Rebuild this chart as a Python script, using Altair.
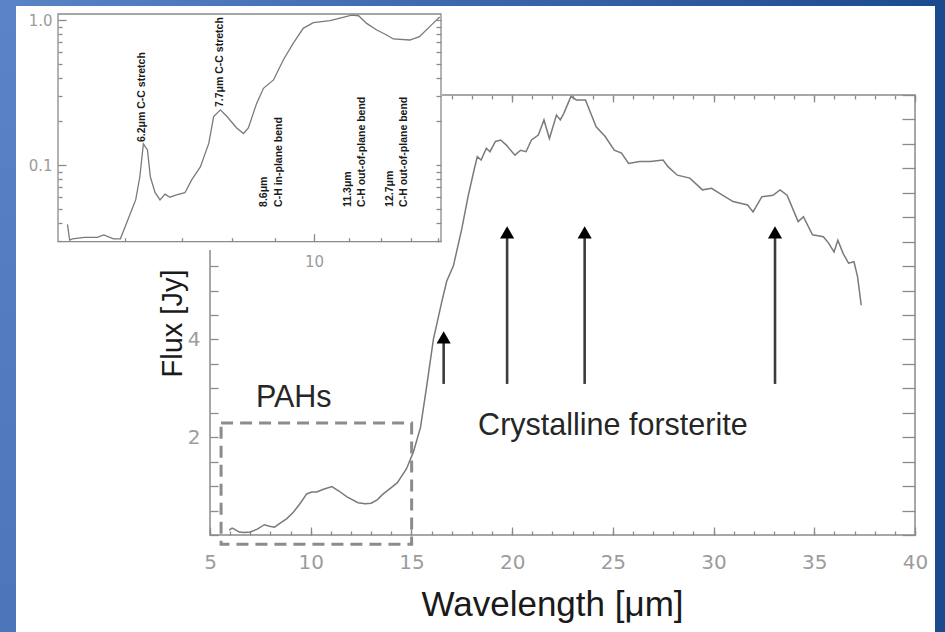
import altair as alt
import pandas as pd

# ---------------------------------------------------------------
# Spectrum of the disk: wavelength (micron) vs flux (Jy)
WAVE = [5.95, 6.10, 6.25, 6.45, 6.70, 7.00, 7.35, 7.70, 7.95, 8.20, 8.50, 8.80,
        9.15, 9.50, 9.80, 10.05, 10.30, 10.60, 11.05, 11.40, 11.80, 12.35, 12.70,
        13.00, 13.30, 13.60, 14.00, 14.30, 14.75, 15.10, 15.45, 15.76, 16.09,
        16.50, 16.75, 17.08, 17.50, 17.80, 18.10, 18.27, 18.46, 18.72, 18.90,
        19.17, 19.43, 19.70, 20.14, 20.42, 20.69, 20.96, 21.30, 21.58, 21.85,
        22.20, 22.39, 22.56, 22.92, 23.19, 23.64, 24.17, 24.62, 25.07, 25.43,
        25.78, 26.33, 26.86, 27.49, 27.75, 28.20, 28.82, 29.45, 29.90, 30.44,
        30.97, 31.69, 31.96, 32.40, 32.95, 33.30, 33.65, 34.20, 34.46, 34.91,
        35.45, 35.71, 35.98, 36.17, 36.43, 36.70, 36.97, 37.15, 37.33]
FLUX = [0.10, 0.14, 0.11, 0.06, 0.05, 0.06, 0.12, 0.21, 0.18, 0.16, 0.25, 0.33,
        0.47, 0.66, 0.84, 0.88, 0.88, 0.93, 0.99, 0.90, 0.78, 0.66, 0.64,
        0.65, 0.72, 0.84, 0.97, 1.07, 1.35, 1.70, 2.20, 3.05, 4.00,
        4.76, 5.19, 5.50, 6.26, 6.90, 7.45, 7.74, 7.67, 7.91, 7.84,
        8.05, 8.08, 7.98, 7.77, 7.87, 7.84, 8.08, 8.18, 8.49, 8.11,
        8.59, 8.49, 8.62, 8.97, 8.90, 8.90, 8.35, 8.15, 7.87, 7.81,
        7.60, 7.64, 7.64, 7.67, 7.53, 7.36, 7.30, 7.06, 7.09, 6.95,
        6.82, 6.75, 6.61, 6.92, 6.95, 7.06, 6.95, 6.41, 6.51, 6.14,
        6.10, 5.97, 5.79, 6.03, 5.76, 5.56, 5.59, 5.28, 4.70]

# Zoom on the PAH region (log-log, normalised flux)
PAH_WAVE = [5.13, 5.16, 5.20, 5.37, 5.56, 5.66, 5.81, 5.92, 6.03, 6.17, 6.24,
            6.30, 6.37, 6.42, 6.50, 6.59, 6.68, 6.77, 6.89, 7.05, 7.18, 7.35,
            7.52, 7.62, 7.76, 7.90, 8.11, 8.26, 8.37, 8.56, 8.72, 8.96, 9.20,
            9.45, 9.71, 9.98, 10.44, 10.73, 11.07, 11.28, 11.53, 11.85, 12.17,
            12.39, 12.96, 13.30, 13.80, 14.05]
PAH_FLUX = [0.039, 0.0304, 0.031, 0.0317, 0.0317, 0.033, 0.031, 0.031, 0.0408,
            0.0575, 0.083, 0.14, 0.127, 0.083, 0.065, 0.0575, 0.063, 0.060,
            0.0623, 0.0644, 0.079, 0.097, 0.141, 0.216, 0.24, 0.216, 0.18,
            0.165, 0.18, 0.266, 0.338, 0.386, 0.53, 0.69, 0.876, 0.958, 0.99,
            1.03, 1.08, 1.07, 0.948, 0.853, 0.788, 0.74, 0.728, 0.767, 0.948,
            1.05]

# PAH band identifications in the zoom
BAND_LABELS = ["6.2\u03bcm C-C stretch", "7.7\u03bcm C-C stretch",
               "8.6\u03bcm\nC-H in-plane bend",
               "11.3\u03bcm\nC-H out-of-plane bend",
               "12.7\u03bcm\nC-H out-of-plane bend"]
BAND_X = [6.28, 7.76, 8.74, 10.95, 12.28]
BAND_Y = [0.144, 0.251, 0.0514, 0.0514, 0.0514]

# Crystalline forsterite features (arrows)
ARROW_X = [16.6, 19.75, 23.6, 33.05]
ARROW_TIP = [4.04, 6.19, 6.19, 6.19]
ARROW_BASE = [3.09, 3.09, 3.09, 3.09]

# Region shown in the zoom
BOX_WAVE = [5.55, 15.01]
BOX_FLUX = [-0.19, 2.29]

# Annotations on the main panel
NOTE_TEXT = ["PAHs", "Crystalline forsterite"]
NOTE_X = [7.28, 18.31]
NOTE_Y = [2.62, 2.05]

# Ticks
X_MAJOR = [5, 10, 15, 20, 25, 30, 35, 40]
X_MINOR = list(range(5, 41))
Y_TICKS = [i * 0.5 for i in range(19)]
Y_LABELED = [2, 4, 6, 8]
PAH_X_MAJOR = [10]
PAH_X_MINOR = [6, 7, 8, 9, 11, 12, 13, 14]
PAH_Y_MAJOR = [0.1, 1.0]
PAH_Y_MINOR = [0.03, 0.04, 0.05, 0.06, 0.07, 0.08, 0.09,
               0.2, 0.3, 0.4, 0.5, 0.6, 0.7, 0.8, 0.9]

# ---------------------------------------------------------------
W, H = 705, 440
AXC = "#8a8a8a"
LINEC = "#7a7a7a"
TICKFONT = "DejaVu Sans"
TEXTFONT = "Liberation Sans"


def xs():
    return alt.Scale(domain=[5, 40], nice=False, zero=False)


def ys():
    return alt.Scale(domain=[0, 9], nice=False, zero=False)


def xi():
    return alt.Scale(type="log", domain=[5, 14.1], range=[-152, 231], nice=False)


def yi():
    return alt.Scale(type="log", domain=[0.0296, 1.1], range=[146.7, -81], nice=False)


def ax(**kw):
    base = dict(grid=False, domain=False, tickColor=AXC, tickWidth=1.3,
                labelColor="#9c9c9c", labelFont=TICKFONT, labelFlush=False,
                labelOverlap=False)
    base.update(kw)
    return alt.Axis(**base)


one = pd.DataFrame({"k": [0]})

# slide border (blue gradient strips around the white panel)
strip_left = alt.Chart(one).mark_rect(
    color={"gradient": "linear", "x1": 0, "x2": 0, "y1": 0, "y2": 1,
           "stops": [{"offset": 0, "color": "#5b84c7"},
                     {"offset": 1, "color": "#4c75ba"}]}
).encode(x=alt.value(-210), x2=alt.value(-194), y=alt.value(-95), y2=alt.value(537))

strip_top = alt.Chart(one).mark_rect(
    color={"gradient": "linear", "x1": 0, "x2": 1, "y1": 0, "y2": 0,
           "stops": [{"offset": 0, "color": "#5b84c7"},
                     {"offset": 1, "color": "#1c4a8e"}]}
).encode(x=alt.value(-210), x2=alt.value(735), y=alt.value(-95), y2=alt.value(-89))

strip_right = alt.Chart(one).mark_rect(color="#1c4a8e").encode(
    x=alt.value(725), x2=alt.value(735), y=alt.value(-95), y2=alt.value(537))

# main frame, carrying the top and right tick marks
frame_df = pd.DataFrame({"x0": [5], "x1": [40], "y0": [0], "y1": [9]})
frame = alt.Chart(frame_df).mark_rect(fillOpacity=0, stroke=AXC, strokeWidth=1.5).encode(
    x=alt.X("x0:Q", scale=xs(), title=None,
            axis=ax(orient="top", values=X_MAJOR, tickSize=7, offset=-7, labels=False, zindex=0)),
    x2="x1:Q",
    y=alt.Y("y0:Q", scale=ys(), title=None,
            axis=ax(orient="right", values=Y_TICKS, tickSize=13, offset=-13, labels=False, zindex=0)),
    y2="y1:Q",
)

# spectrum with the labelled bottom / left axes
spec_df = pd.DataFrame({"wave": WAVE, "flux": FLUX})
y_label_expr = ("indexof([" + ",".join(str(v) for v in Y_LABELED) +
                "], datum.value) >= 0 ? format(datum.value, 'd') : ''")
spectrum = alt.Chart(spec_df).mark_line(color=LINEC, strokeWidth=1.5).encode(
    x=alt.X("wave:Q", scale=xs(),
            axis=ax(orient="bottom", values=X_MAJOR, tickSize=8, offset=-8,
                    labelPadding=17, labelFontSize=20, format="d", zindex=0,
                    title="Wavelength [\u03bcm]", titleX=342, titleY=88,
                    titleAlign="center", titleBaseline="alphabetic",
                    titleFont=TEXTFONT, titleFontSize=35, titleFontWeight="normal",
                    titleColor="#1a1a1a")),
    y=alt.Y("flux:Q", scale=ys(),
            axis=ax(orient="left", values=Y_TICKS, tickSize=8, offset=-8,
                    labelPadding=10, labelFontSize=20, labelExpr=y_label_expr, zindex=0,
                    title="Flux [Jy]", titleAngle=270, titleX=-37, titleY=228,
                    titleAlign="center", titleBaseline="alphabetic",
                    titleFont=TEXTFONT, titleFontSize=29, titleFontWeight="normal",
                    titleColor="#1a1a1a")),
)

# forsterite arrows
arr_df = pd.DataFrame({"x": ARROW_X, "tip": ARROW_TIP, "base": ARROW_BASE})
shafts = alt.Chart(arr_df).mark_rule(color="#3c3c3c", strokeWidth=2.6).encode(
    x=alt.X("x:Q", scale=xs(), title=None,
            axis=ax(orient="bottom", values=X_MINOR, tickSize=4, offset=-4, labels=False, zindex=0)),
    y=alt.Y("base:Q", scale=ys(), axis=None),
    y2="tip:Q",
)
heads = alt.Chart(arr_df).mark_point(shape="triangle-up", filled=True, color="black",
                                     size=200, opacity=1, strokeWidth=0).encode(
    x=alt.X("x:Q", scale=xs(), title=None,
            axis=ax(orient="top", values=X_MINOR, tickSize=4, offset=-4, labels=False, zindex=0)),
    y=alt.Y("tip:Q", scale=ys(), axis=None),
)

# dashed outline of the zoomed region
box_df = pd.DataFrame({"x0": [BOX_WAVE[0]], "x1": [BOX_WAVE[1]],
                       "y0": [BOX_FLUX[0]], "y1": [BOX_FLUX[1]]})
box = alt.Chart(box_df).mark_rect(fillOpacity=0, stroke="#8c8c8c", strokeWidth=3,
                                  strokeDash=[12, 7]).encode(
    x=alt.X("x0:Q", scale=xs(), axis=None), x2="x1:Q",
    y=alt.Y("y0:Q", scale=ys(), axis=None), y2="y1:Q",
)

note_df = pd.DataFrame({"text": NOTE_TEXT, "x": NOTE_X, "y": NOTE_Y})
notes = alt.Chart(note_df).mark_text(align="left", baseline="alphabetic", fontSize=30.5,
                                     font=TEXTFONT, color="#262626").encode(
    x=alt.X("x:Q", scale=xs(), axis=None),
    y=alt.Y("y:Q", scale=ys(), axis=None),
    text="text:N",
)

# inset panel
inset_bg = alt.Chart(one).mark_rect(color="white").encode(
    x=alt.value(-194), x2=alt.value(232), y=alt.value(-89), y2=alt.value(155))

iframe_df = pd.DataFrame({"x0": [5], "x1": [14.1], "y0": [0.0296], "y1": [1.1]})
iframe = alt.Chart(iframe_df).mark_rect(fillOpacity=0, stroke=AXC, strokeWidth=1.3).encode(
    x=alt.X("x0:Q", scale=xi(), axis=None), x2="x1:Q",
    y=alt.Y("y0:Q", scale=yi(), title=None,
            axis=ax(orient="right", values=PAH_Y_MAJOR + PAH_Y_MINOR, tickSize=5,
                    offset=-479, labels=False, zindex=1)),
    y2="y1:Q",
)

pah_df = pd.DataFrame({"wave": PAH_WAVE, "flux": PAH_FLUX})
pah_line = alt.Chart(pah_df).mark_line(color=LINEC, strokeWidth=1.3).encode(
    x=alt.X("wave:Q", scale=xi(), title=None,
            axis=ax(orient="bottom", values=PAH_X_MINOR, tickSize=4, offset=-297.3,
                    labels=False, zindex=1)),
    y=alt.Y("flux:Q", scale=yi(), title=None,
            axis=ax(orient="left", values=PAH_Y_MAJOR, tickSize=8, offset=144,
                    labelPadding=6, labelFontSize=15, format=".1f", zindex=1)),
)

band_df = pd.DataFrame({"label": BAND_LABELS, "x": BAND_X, "y": BAND_Y})
bands = alt.Chart(band_df).mark_text(angle=270, align="left", baseline="middle",
                                     fontSize=10.5, fontWeight="bold", font=TEXTFONT,
                                     lineBreak="\n", lineHeight=14.5, color="#1a1a1a").encode(
    x=alt.X("x:Q", scale=xi(), title=None,
            axis=ax(orient="bottom", values=PAH_X_MAJOR, tickSize=8, offset=-301.3,
                    labelPadding=13, labelFontSize=15, format="d", zindex=1)),
    y=alt.Y("y:Q", scale=yi(), title=None,
            axis=ax(orient="left", values=PAH_Y_MINOR, tickSize=4, offset=148,
                    labels=False, zindex=1)),
    text="label:N",
)

chart = alt.layer(
    strip_left, strip_top, strip_right,
    frame, spectrum, shafts, heads, box, notes,
    inset_bg, iframe, pah_line, bands,
).resolve_scale(
    x="independent", y="independent"
).resolve_axis(
    x="independent", y="independent"
).properties(
    width=W, height=H,
    padding={"left": 210, "top": 95, "right": 30, "bottom": 97},
    autosize=alt.AutoSizeParams(type="none"),
    background="white",
).configure_view(strokeWidth=0)

chart.save("out.html", embed_options={"renderer": "svg", "actions": False})
